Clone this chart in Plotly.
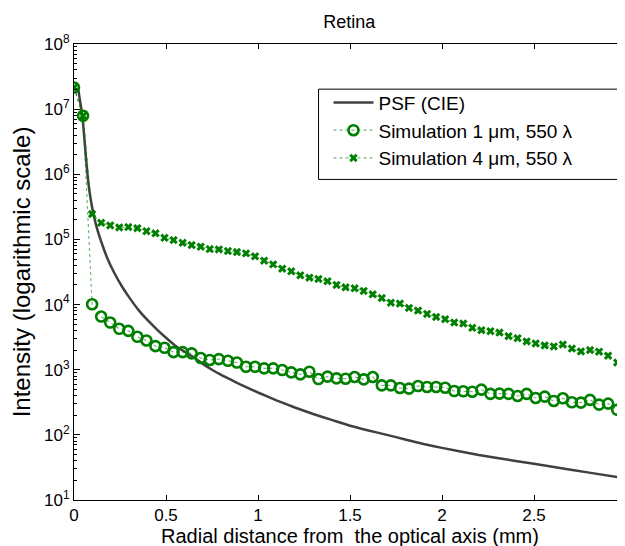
import plotly.graph_objects as go

# ---- data ----
sim_step = 0.0492  # spacing of simulation samples (mm)
n_sim = 61
sim_x = [round(i * sim_step, 4) for i in range(n_sim)]

sim1 = [2.15e7, 7.9e6, 1.01e4, 6550, 5300, 4250, 3950, 3200, 2810, 2300,
        2170, 1860, 1860, 1780, 1510, 1410, 1455, 1370, 1290, 1110,
        1110, 1050, 1050, 989, 910, 849, 931, 719, 782, 736,
        728, 773, 711, 773, 575, 575, 524, 512, 562, 543,
        543, 530, 471, 466, 460, 494, 425, 430, 425, 395,
        425, 368, 386, 331, 364, 316, 313, 344, 291, 302,
        242]

sim4 = [2.15e7, 7.9e6, 2.45e5, 1.80e5, 1.64e5, 1.53e5, 1.55e5, 1.49e5, 1.34e5, 1.24e5,
        1.06e5, 9.77e4, 8.89e4, 8.18e4, 7.73e4, 7.11e4, 7.03e4, 6.62e4, 6.40e4, 6.11e4,
        5.50e4, 4.71e4, 4.14e4, 3.56e4, 3.24e4, 2.81e4, 2.59e4, 2.47e4, 2.28e4, 2.00e4,
        1.84e4, 1.78e4, 1.62e4, 1.44e4, 1.26e4, 1.07e4, 1.035e4, 8890, 8090, 7190,
        6470, 5970, 5300, 5120, 4400, 4050, 3910, 3720, 3270, 3050,
        2720, 2530, 2360, 2280, 2430, 2110, 1910, 2000, 1890, 1640,
        1290]

psf_x = [0.022, 0.030, 0.045, 0.055, 0.065, 0.075, 0.085, 0.10, 0.12, 0.15,
         0.18, 0.22, 0.26, 0.30, 0.35, 0.40, 0.45, 0.50, 0.55, 0.60,
         0.65, 0.70, 0.75, 0.80, 0.85, 0.90, 1.0, 1.1, 1.2, 1.3,
         1.4, 1.5, 1.6, 1.7, 1.8, 1.9, 2.0, 2.2, 2.4, 2.6,
         2.8, 3.0]
psf_y = [2.14e7, 1.5e7, 8.1e6, 4.0e6, 1.78e6, 8.9e5, 5.25e5, 2.95e5, 1.66e5, 8.9e4,
         5.25e4, 3.02e4, 1.91e4, 1.29e4, 8300, 5750, 4170, 3090, 2340, 1900,
         1550, 1230, 1000, 832, 708, 603, 447, 339, 263, 209,
         170, 138, 117, 100, 85, 72.4, 63.1, 49.0, 39.8, 32.4,
         26.3, 21.4]

x_tick_vals = [0, 0.5, 1, 1.5, 2, 2.5, 3]
x_tick_text = ["0", "0.5", "1", "1.5", "2", "2.5", "3"]
y_exps = [1, 2, 3, 4, 5, 6, 7, 8]
y_minor = [m * 10 ** e for e in range(1, 8) for m in range(2, 10)]

names = ["PSF (CIE)", "Simulation 1 \u03bcm, 550 \u03bb", "Simulation 4 \u03bcm, 550 \u03bb"]

GREEN = "#008000"
FONT = "Liberation Sans, Arial, Helvetica, sans-serif"

fig = go.Figure()
fig.add_trace(go.Scatter(
    x=psf_x, y=psf_y, mode="lines", name=names[0],
    line=dict(color="#404040", width=2.5, shape="spline", smoothing=0.4),
))
fig.add_trace(go.Scatter(
    x=sim_x, y=sim1, mode="lines+markers", name=names[1],
    line=dict(color="rgba(0,128,0,0.55)", width=1.2, dash="dot"),
    marker=dict(symbol="circle-open", size=10, color=GREEN, line=dict(width=2.6, color=GREEN)),
))
fig.add_trace(go.Scatter(
    x=sim_x, y=sim4, mode="lines+markers", name=names[2],
    line=dict(color="rgba(0,128,0,0.55)", width=1.2, dash="dot"),
    marker=dict(symbol="x", size=7.5, color=GREEN, line=dict(width=0)),
))

# the last x tick label sits on the right border; draw it as an annotation so it is not dropped
last_label = x_tick_text[-1]
axis_tick_text = x_tick_text[:-1] + [""]

fig.update_layout(
    width=625, height=546,
    margin=dict(l=66, r=7, t=36, b=54),
    paper_bgcolor="white", plot_bgcolor="white",
    font=dict(family=FONT, size=16, color="black"),
    title=dict(text="Retina", x=0.546, xanchor="center", y=0.975, yanchor="middle",
               font=dict(size=18, family=FONT, color="black")),
    showlegend=True,
    legend=dict(x=0.461, y=0.913, xanchor="left", yanchor="top",
                bgcolor="rgba(255,255,255,0)", borderwidth=0,
                font=dict(size=19, family=FONT, color="black"),
                tracegroupgap=0, itemwidth=40),
    shapes=[dict(type="rect", xref="paper", yref="paper",
                 x0=0.443, x1=1.0, y0=0.703, y1=0.901,
                 line=dict(color="black", width=1), fillcolor="white", layer="above")],
    annotations=[dict(text=last_label, x=x_tick_vals[-1], xref="x", y=0, yref="paper",
                      xanchor="right", yanchor="top", xshift=3, yshift=-3, showarrow=False,
                      font=dict(size=17, family=FONT, color="black"))],
    xaxis=dict(
        range=[0, 3], tickvals=x_tick_vals, ticktext=axis_tick_text,
        ticks="inside", ticklen=5, tickcolor="black",
        showline=True, linecolor="black", linewidth=1, mirror="ticks",
        showgrid=False, zeroline=False, ticklabeloverflow="allow",
        tickfont=dict(size=17, family=FONT, color="black"),
        title=dict(text="Radial distance from  the optical axis (mm)", standoff=4,
                   font=dict(size=20, family=FONT, color="black")),
    ),
    yaxis=dict(
        type="log", range=[1, 8],
        tickvals=[10 ** e for e in y_exps],
        ticktext=["10<sup>%d</sup>" % e for e in y_exps],
        ticks="inside", ticklen=6, tickcolor="black",
        minor=dict(tickmode="array", tickvals=y_minor, ticks="inside",
                   ticklen=3, tickcolor="black", showgrid=False),
        showline=True, linecolor="black", linewidth=1, mirror="ticks",
        showgrid=False, zeroline=False,
        tickfont=dict(size=17, family=FONT, color="black"),
        title=dict(text="Intensity (logarithmic scale)", standoff=9,
                   font=dict(size=24, family=FONT, color="black")),
    ),
)

fig.write_html("out.html")
